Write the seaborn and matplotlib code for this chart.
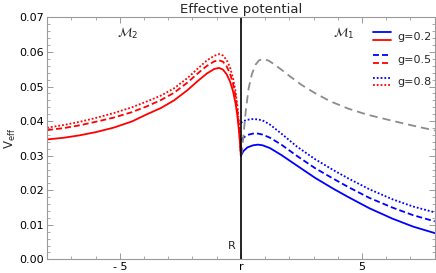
import matplotlib
matplotlib.use("Agg")
import matplotlib.pyplot as plt
import seaborn as sns
from matplotlib.legend_handler import HandlerBase
from matplotlib.lines import Line2D
from matplotlib.ticker import MultipleLocator, FixedLocator, FormatStrFormatter

# values
x_red = [-8, -7.3, -6.65, -6, -5.26, -4.5, -3.875, -3.3, -2.76, -2.2, -1.75, -1.4,
         -1.1, -0.9, -0.74, -0.59, -0.45, -0.33, -0.23, -0.15, -0.08, -0.03, 0]
red_g02 = [0.0347, 0.0352, 0.0359, 0.0368, 0.0381, 0.0399, 0.0420, 0.0438, 0.0460, 0.0490,
           0.0518, 0.0538, 0.0551, 0.0554, 0.0549, 0.0536, 0.0515, 0.0488, 0.0455, 0.0418,
           0.0372, 0.0330, 0.0300]
red_g05 = [0.0374, 0.0380, 0.0388, 0.0398, 0.0410, 0.0426, 0.0443, 0.0461, 0.0482, 0.0512,
           0.0540, 0.0560, 0.0573, 0.0576, 0.0572, 0.0559, 0.0538, 0.0510, 0.0476, 0.0435,
           0.0386, 0.0338, 0.0300]
red_g08 = [0.0381, 0.0389, 0.0398, 0.0409, 0.0423, 0.0440, 0.0457, 0.0474, 0.0495, 0.0525,
           0.0554, 0.0576, 0.0589, 0.0594, 0.0590, 0.0577, 0.0556, 0.0526, 0.0490, 0.0447,
           0.0395, 0.0342, 0.0300]

x_blue = [0, 0.1, 0.27, 0.5, 0.7, 0.9, 1.2, 1.67, 2.3, 3.06, 3.8, 4.44, 5.3, 6.25, 7.1, 8]
blue_g02 = [0.0300, 0.0313, 0.0324, 0.0330, 0.0332, 0.0330, 0.0322, 0.0302, 0.0272, 0.0236,
            0.0205, 0.0180, 0.0148, 0.0118, 0.0095, 0.0076]
blue_g05 = [0.0345, 0.0352, 0.0360, 0.0364, 0.0364, 0.0361, 0.0352, 0.0332, 0.0300, 0.0264,
            0.0234, 0.0209, 0.0178, 0.0150, 0.0128, 0.0110]
blue_g08 = [0.0395, 0.0400, 0.0404, 0.0406, 0.0405, 0.0402, 0.0390, 0.0364, 0.0327, 0.0290,
            0.0259, 0.0234, 0.0203, 0.0174, 0.0153, 0.0136]

x_gray = [0, 0.05, 0.12, 0.21, 0.32, 0.45, 0.6, 0.75, 0.92, 1.15, 1.4, 1.67, 2.0, 2.5,
          3.06, 3.7, 4.44, 5.2, 6.25, 7.1, 8]
gray_ref = [0.0300, 0.0315, 0.0370, 0.0435, 0.0495, 0.0535, 0.0563, 0.0576, 0.0580, 0.0575,
            0.0563, 0.0549, 0.0531, 0.0505, 0.0481, 0.0457, 0.0436, 0.0419, 0.0401, 0.0387,
            0.0373]

g_labels = ["g=0.2", "g=0.5", "g=0.8"]
xtick_pos = [-5, 0, 5]
xtick_labels = ["- 5", "r", "5"]

sns.set_style("ticks")
plt.rcParams["font.family"] = ["DejaVu Sans"]

fig = plt.figure(figsize=(4.36, 2.73), dpi=100)
ax = fig.add_axes([0.108, 0.05, 0.889, 0.886])

styles = ["-", (0, (3.3, 1.7)), (0, (1.0, 1.1))]
lw = 1.3

red_lines = []
for ys, ls in zip([red_g02, red_g05, red_g08], styles):
    sns.lineplot(x=x_red, y=ys, color="red", linestyle=ls, linewidth=lw, ax=ax, legend=False)
    red_lines.append(ax.lines[-1])

blue_lines = []
for ys, ls in zip([blue_g02, blue_g05, blue_g08], styles):
    sns.lineplot(x=x_blue, y=ys, color="blue", linestyle=ls, linewidth=lw, ax=ax, legend=False)
    blue_lines.append(ax.lines[-1])

sns.lineplot(x=x_gray, y=gray_ref, color="#8c8c8c", linestyle=(0, (4.5, 2.8)),
             linewidth=lw, ax=ax, legend=False)

ax.axvline(0, color="black", linewidth=1.2)

ax.set_xlim(-8, 8)
ax.set_ylim(0, 0.07)
ax.xaxis.set_major_locator(FixedLocator(xtick_pos))
ax.set_xticklabels(xtick_labels)
ax.xaxis.set_minor_locator(MultipleLocator(1))
ax.yaxis.set_major_locator(MultipleLocator(0.01))
ax.yaxis.set_minor_locator(MultipleLocator(0.002))
ax.yaxis.set_major_formatter(FormatStrFormatter("%.2f"))

for sp in ax.spines.values():
    sp.set_visible(True)
    sp.set_color("#9a9a9a")
    sp.set_linewidth(0.8)
ax.tick_params(which="both", direction="in", top=True, right=True, color="#9a9a9a",
               labelsize=8, labelcolor="black", pad=2)
ax.tick_params(which="major", length=4, width=0.7)
ax.tick_params(which="minor", length=2, width=0.6)

ax.set_title("Effective potential", fontsize=9.5, pad=3)
ax.set_ylabel(r"V$_{\mathrm{eff}}$", fontsize=8.5, labelpad=1)

ax.text(-5.1, 0.0655, r"$\mathcal{M}_2$", fontsize=9, ha="left", va="center")
ax.text(3.8, 0.0655, r"$\mathcal{M}_1$", fontsize=9, ha="left", va="center")
ax.text(-0.38, 0.004, "R", fontsize=8, ha="center", va="center")


class PairHandler(HandlerBase):
    def create_artists(self, legend, orig_handle, xdescent, ydescent, width, height,
                       fontsize, trans):
        out = []
        for h, yy in zip(orig_handle, (height * 1.0, height * 0.0)):
            ln = Line2D([-xdescent, width - xdescent], [yy - ydescent] * 2)
            ln.update_from(h)
            ln.set_transform(trans)
            out.append(ln)
        return out


pairs = [(b, r) for b, r in zip(blue_lines, red_lines)]
ax.legend(pairs, g_labels, handler_map={tuple: PairHandler()}, loc="upper right",
          frameon=False, fontsize=8, handlelength=1.6, handleheight=0.7,
          labelspacing=1.15, handletextpad=0.6, borderaxespad=0.3,
          bbox_to_anchor=(1.013, 0.973))

fig.savefig("out.png", dpi=100)
